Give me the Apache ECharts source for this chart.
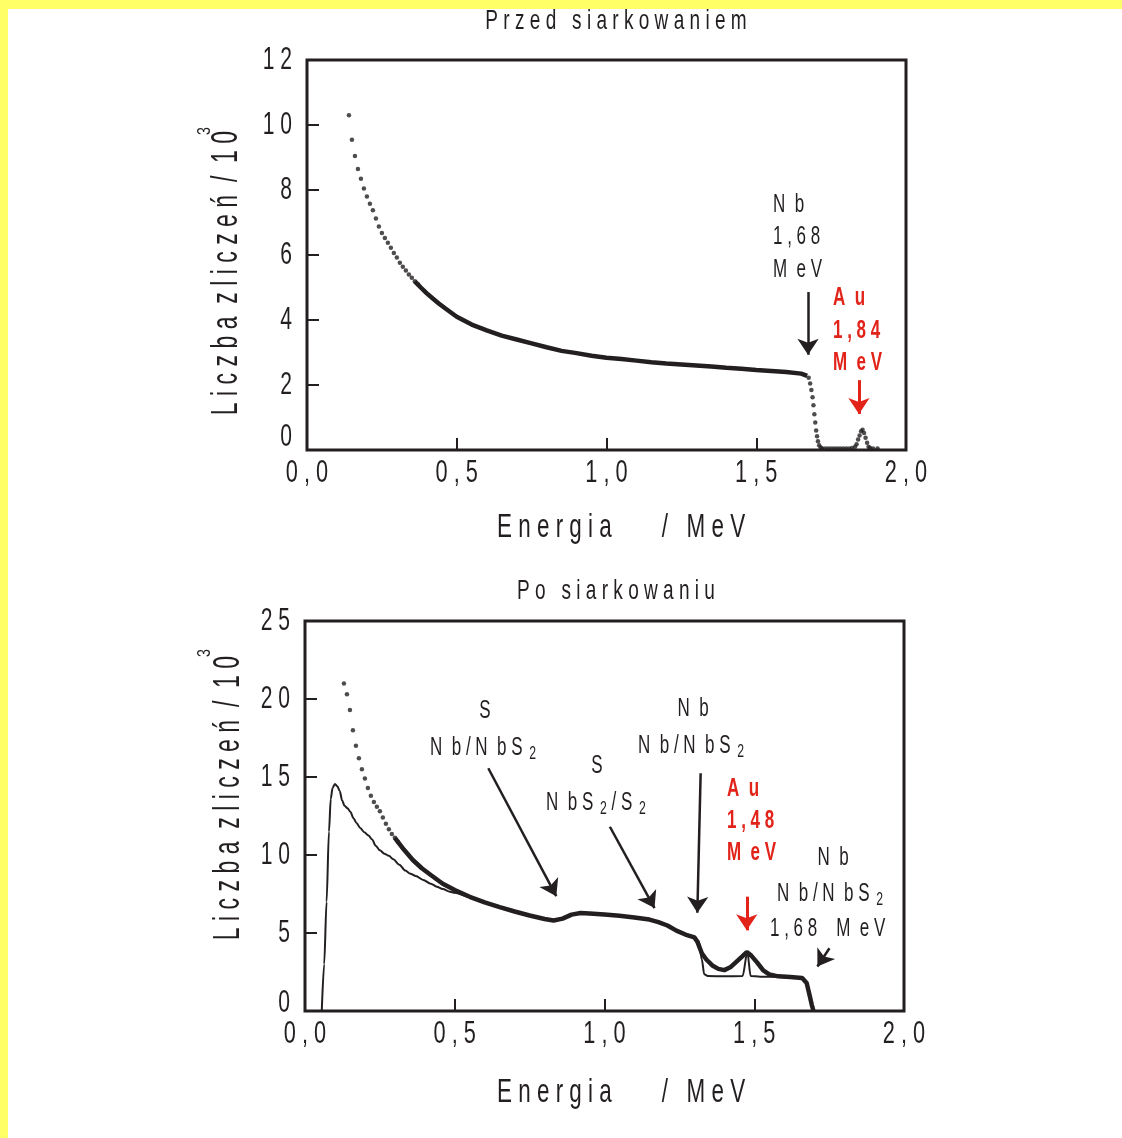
<!DOCTYPE html>
<html>
<head>
<meta charset="utf-8">
<script src="https://cdn.jsdelivr.net/npm/echarts@6/dist/echarts.min.js"></script>
<style>
html,body{margin:0;padding:0;background:#fff;}
#chart{width:1122px;height:1138px;}
</style>
</head>
<body>
<div id="chart"></div>
<script>
// --- dane ---
// górny wykres: przed siarkowaniem (liczba zliczeń / 10^3)
var topSteepE = [0.14,0.15,0.16,0.17,0.18,0.19,0.20,0.21,0.22,0.23,0.24,0.25,0.26,0.27,0.28,0.29,0.30,0.31,0.32,0.33,0.34,0.35,0.36,0.37];
var topSteepC = [10.30,9.55,9.05,8.65,8.35,8.05,7.80,7.58,7.38,7.12,6.88,6.68,6.52,6.38,6.22,6.06,5.92,5.76,5.64,5.52,5.40,5.30,5.19,5.10];
var topBandE = [0.36,0.38,0.40,0.42,0.44,0.46,0.50,0.55,0.60,0.65,0.70,0.75,0.80,0.85,0.90,0.95,1.00,1.05,1.10,1.15,1.20,1.25,1.30,1.35,1.40,1.45,1.50,1.55,1.60,1.65,1.67];
var topBandC = [5.19,5.00,4.82,4.66,4.51,4.37,4.10,3.86,3.68,3.52,3.40,3.28,3.16,3.05,2.98,2.90,2.84,2.80,2.75,2.70,2.66,2.63,2.60,2.57,2.53,2.50,2.46,2.43,2.40,2.35,2.28];
var topTailE = [1.675,1.680,1.684,1.688,1.691,1.694,1.697,1.700,1.703,1.706,1.710,1.715,1.72,1.73,1.74,1.75,1.76,1.77,1.78,1.79,1.80,1.81,1.82,1.83,1.835,1.840,1.845,1.850,1.855,1.860,1.865,1.870,1.875,1.88,1.89,1.905];
var topTailC = [2.22,2.05,1.85,1.62,1.38,1.10,0.85,0.60,0.42,0.27,0.15,0.08,0.05,0.05,0.05,0.05,0.05,0.05,0.05,0.05,0.05,0.05,0.06,0.10,0.18,0.32,0.45,0.58,0.62,0.52,0.38,0.22,0.10,0.06,0.05,0.05];

// dolny wykres: po siarkowaniu, pomiar (punkty)
var botSteepE = [0.13,0.14,0.15,0.16,0.17,0.18,0.19,0.20,0.21,0.22,0.23,0.24,0.25,0.26,0.27,0.28,0.29,0.30,0.31];
var botSteepC = [21.0,20.3,19.3,18.0,17.0,16.2,15.5,14.9,14.3,13.8,13.4,13.1,12.8,12.4,12.0,11.65,11.35,11.1,10.85];
var botBandE = [0.30,0.33,0.36,0.39,0.42,0.46,0.50,0.55,0.60,0.65,0.70,0.75,0.80,0.83,0.86,0.89,0.92,0.95,1.00,1.05,1.10,1.15,1.18,1.21,1.24,1.27,1.30,1.31,1.325,1.34,1.36,1.38,1.40,1.42,1.44,1.46,1.475,1.49,1.51,1.53,1.55,1.58,1.62,1.66,1.675,1.685,1.692,1.698];
var botBandC = [11.1,10.35,9.68,9.15,8.72,8.16,7.75,7.32,6.96,6.66,6.38,6.12,5.90,5.80,5.92,6.18,6.28,6.25,6.18,6.10,6.00,5.86,5.70,5.48,5.15,4.90,4.72,4.45,3.70,3.30,2.92,2.70,2.62,2.80,3.15,3.50,3.78,3.55,3.10,2.60,2.35,2.22,2.18,2.12,1.80,1.00,0.40,0.0];

// dolny wykres: symulacja (linia ciągła)
var simE = [0.056,0.064,0.072,0.080,0.086,0.092,0.100,0.108,0.116,0.124,0.132,0.142,0.152,0.162,0.172,0.185,0.198,0.212,0.224,0.236,0.250,0.265,0.280,0.295,0.315,0.335,0.352,0.370,0.395,0.420,0.440,0.460,0.484,0.50,0.55,0.60,0.65,0.70,0.75,0.80,0.83,0.86,0.89,0.92,0.95,1.00,1.05,1.10,1.15,1.18,1.21,1.24,1.27,1.30,1.315,1.325,1.333,1.345,1.40,1.461,1.477,1.488,1.52,1.58,1.62,1.66,1.675,1.685,1.692,1.698];
var simC = [0,3.0,7.0,11.5,13.6,14.3,14.55,14.4,14.1,13.5,13.15,13.0,12.75,12.35,12.05,11.72,11.46,11.25,11.0,10.6,10.3,10.08,9.95,9.72,9.38,9.0,8.8,8.65,8.40,8.16,7.97,7.82,7.65,7.58,7.30,6.96,6.66,6.38,6.12,5.90,5.80,5.92,6.18,6.28,6.25,6.18,6.10,6.00,5.86,5.70,5.48,5.15,4.90,4.72,4.45,3.30,2.35,2.24,2.22,2.24,3.78,2.24,2.20,2.18,2.16,2.12,1.80,1.00,0.40,0.0];

// podziałki osi
var xTickVals = [0, 0.5, 1, 1.5, 2];
var xTickLabels = ['0 , 0','0 , 5','1 , 0','1 , 5','2 , 0'];
var topYTickVals = [0, 2, 4, 6, 8, 10, 12];
var topYTickLabels = ['0','2','4','6','8','1 0','1 2'];
var botYTickVals = [0, 5, 10, 15, 20, 25];
var botYTickLabels = ['0','5','1 0','1 5','2 0','2 5'];

var FONT = '"Liberation Sans",Arial,sans-serif';
var INK = '#231f20';
var RED = '#e2231a';
var SQ = 0.68; // zwężenie poziome czcionki (jak Arial Narrow)

function pairs(xs, ys) {
    return xs.map(function (x, i) { return [x, ys[i]]; });
}

function txt(x, y, text, size, color, opt) {
    opt = opt || {};
    return {
        type: 'text', x: x, y: y, silent: true,
        rotation: opt.rotation || 0,
        scaleX: opt.sq || SQ,
        style: {
            text: text,
            fill: color,
            font: (opt.bold ? 'bold ' : '') + size + 'px ' + FONT,
            align: opt.align || 'left',
            verticalAlign: 'middle',
            rich: opt.rich
        }
    };
}

// tekst z indeksem dolnym "2"
function subTxt(x, y, text, size) {
    return txt(x, y, text, size, INK, {
        rich: {
            m: { fontSize: size, fontFamily: FONT, fill: INK, lineHeight: size + 6 },
            s: { fontSize: Math.round(size * 0.72), fontFamily: FONT, fill: INK, verticalAlign: 'bottom', lineHeight: Math.round(size * 0.72), padding: [0, 0, 0, 3] }
        }
    });
}

function xAxisCfg(gridIndex) {
    return {
        type: 'value', gridIndex: gridIndex, min: 0, max: 2, interval: 0.5,
        axisLine: { show: false },
        axisTick: { show: true, inside: true, length: 12, lineStyle: { color: INK, width: 2 } },
        splitLine: { show: false },
        axisLabel: { show: false }
    };
}

function yAxisCfg(gridIndex, max, interval) {
    return {
        type: 'value', gridIndex: gridIndex, min: 0, max: max, interval: interval,
        axisLine: { show: false },
        axisTick: { show: true, inside: true, length: 12, lineStyle: { color: INK, width: 2 } },
        splitLine: { show: false },
        axisLabel: { show: false }
    };
}

// strzałki: koniec linii cofnięty o pół grotu
var arrowStyle = { color: INK, width: 2.5, type: 'solid' };
var redArrowStyle = { color: RED, width: 3, type: 'solid' };
var arrowMark = {
    silent: true, animation: false,
    symbol: ['none', 'arrow'], symbolSize: 16,
    label: { show: false }
};

var myChart = echarts.init(document.getElementById('chart'));
var option = {
    backgroundColor: '#fff',
    animation: false,
    grid: [
        { left: 307, top: 60, width: 599, height: 390, show: true, borderColor: INK, borderWidth: 3, backgroundColor: 'transparent' },
        { left: 305, top: 621, width: 599, height: 390, show: true, borderColor: INK, borderWidth: 3, backgroundColor: 'transparent' }
    ],
    xAxis: [xAxisCfg(0), xAxisCfg(1)],
    yAxis: [yAxisCfg(0, 12, 2), yAxisCfg(1, 25, 5)],
    series: [
        {
            name: 'przed-strome', type: 'scatter', xAxisIndex: 0, yAxisIndex: 0,
            data: pairs(topSteepE, topSteepC), symbolSize: 4.5,
            itemStyle: { color: INK }, silent: true
        },
        {
            name: 'przed-plateau', type: 'line', xAxisIndex: 0, yAxisIndex: 0,
            data: pairs(topBandE, topBandC), showSymbol: false,
            lineStyle: { color: INK, width: 4.5 }, silent: true,
            markLine: Object.assign({}, arrowMark, {
                data: [
                    [{ coord: [1.673, 4.86], lineStyle: arrowStyle }, { coord: [1.673, 2.93] }],
                    [{ coord: [1.843, 2.15], lineStyle: redArrowStyle, itemStyle: { color: RED } }, { coord: [1.843, 1.11] }]
                ]
            })
        },
        {
            name: 'przed-koniec', type: 'scatter', xAxisIndex: 0, yAxisIndex: 0,
            data: pairs(topTailE, topTailC), symbolSize: 4.5,
            itemStyle: { color: INK }, silent: true
        },
        {
            name: 'po-strome', type: 'scatter', xAxisIndex: 1, yAxisIndex: 1,
            data: pairs(botSteepE, botSteepC), symbolSize: 4.5,
            itemStyle: { color: INK }, silent: true
        },
        {
            name: 'po-pomiar', type: 'line', xAxisIndex: 1, yAxisIndex: 1,
            data: pairs(botBandE, botBandC), showSymbol: false,
            lineStyle: { color: INK, width: 4.5 }, silent: true
        },
        {
            name: 'po-symulacja', type: 'line', xAxisIndex: 1, yAxisIndex: 1,
            data: pairs(simE, simC), showSymbol: false,
            smooth: 0.3, smoothMonotone: 'x',
            lineStyle: { color: INK, width: 2 }, silent: true,
            markLine: Object.assign({}, arrowMark, {
                data: [
                    [{ coord: [0.612, 15.56], lineStyle: arrowStyle }, { coord: [0.839, 7.36] }],
                    [{ coord: [1.018, 11.81], lineStyle: arrowStyle }, { coord: [1.167, 6.60] }],
                    [{ coord: [1.321, 15.24], lineStyle: arrowStyle }, { coord: [1.310, 6.30] }],
                    [{ coord: [1.475, 7.33], lineStyle: redArrowStyle, itemStyle: { color: RED } }, { coord: [1.475, 5.17] }],
                    [{ coord: [1.751, 4.02], lineStyle: arrowStyle }, { coord: [1.711, 2.85] }]
                ]
            })
        }
    ]
};
myChart.setOption(option);

// napisy (podziałki liczone przez osie wykresu)
var graphics = [
    { type: 'rect', silent: true, shape: { x: 0, y: 0, width: 1122, height: 9 }, style: { fill: '#ffff66' } },
    { type: 'rect', silent: true, shape: { x: 0, y: 0, width: 8, height: 1138 }, style: { fill: '#ffff66' } },

    txt(616, 21, 'P r z e d   s i a r k o w a n i e m', 28, INK, { align: 'center' }),
    txt(616, 591, 'P o   s i a r k o w a n i u', 28, INK, { align: 'center' }),
    txt(497, 528, 'E n e r g i a        /   M e V', 33, INK),
    txt(497, 1093, 'E n e r g i a        /   M e V', 33, INK),

    txt(227, 273, 'L i c z b a  z l i c z e ń  /  1 0', 36, INK, { rotation: Math.PI / 2, align: 'center', sq: 0.64 }),
    txt(205, 131, '3', 18, INK, { rotation: Math.PI / 2, align: 'center', sq: 0.8 }),
    txt(229, 798, 'L i c z b a  z l i c z e ń  /  1 0', 36, INK, { rotation: Math.PI / 2, align: 'center', sq: 0.64 }),
    txt(205, 653, '3', 18, INK, { rotation: Math.PI / 2, align: 'center', sq: 0.8 }),

    // adnotacje - górny
    txt(773, 205, 'N  b', 25, INK),
    txt(773, 237, '1 , 6 8', 25, INK),
    txt(773, 270, 'M  e V', 25, INK),
    txt(833, 298, 'A  u', 25, RED, { bold: true }),
    txt(833, 331, '1 , 8 4', 25, RED, { bold: true }),
    txt(833, 363, 'M  e V', 25, RED, { bold: true }),

    // adnotacje - dolny
    txt(485, 711, 'S', 25, INK, { align: 'center' }),
    subTxt(430, 748, '{m|N  b / N  b S }{s|2}', 25),
    txt(597, 766, 'S', 25, INK, { align: 'center' }),
    subTxt(546, 803, '{m|N  b S }{s|2}{m| / S }{s|2}', 25),
    txt(693, 709, 'N  b', 25, INK, { align: 'center' }),
    subTxt(638, 746, '{m|N  b / N  b S }{s|2}', 25),
    txt(727, 789, 'A  u', 25, RED, { bold: true }),
    txt(727, 821, '1 , 4 8', 25, RED, { bold: true }),
    txt(727, 853, 'M  e V', 25, RED, { bold: true }),
    txt(833, 858, 'N  b', 25, INK, { align: 'center' }),
    subTxt(777, 894, '{m|N  b / N  b S }{s|2}', 25),
    txt(770, 929, '1 , 6 8    M  e V', 25, INK)
];

[0, 1].forEach(function (g) {
    xTickVals.forEach(function (v, i) {
        var p = myChart.convertToPixel({ gridIndex: g }, [v, 0]);
        graphics.push(txt(p[0], p[1] + 23, xTickLabels[i], 32, INK, { align: 'center' }));
    });
    var yv = g === 0 ? topYTickVals : botYTickVals;
    var yl = g === 0 ? topYTickLabels : botYTickLabels;
    yv.forEach(function (v, i) {
        var p = myChart.convertToPixel({ gridIndex: g }, [0, v]);
        var dy = i === 0 ? (g === 0 ? -13 : -8) : 0;
        graphics.push(txt(p[0] - 15, p[1] + dy, yl[i], 31, INK, { align: 'right' }));
    });
});

myChart.setOption({ graphic: graphics });

window.addEventListener('resize', function () {
    myChart.resize();
});
</script>
</body>
</html>
